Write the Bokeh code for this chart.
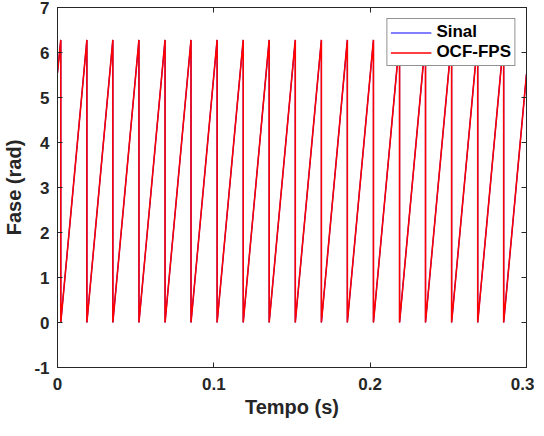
from bokeh.plotting import figure
from bokeh.models import Range1d, FixedTicker, LinearAxis, Legend, LegendItem, CustomJSTickFormatter
from bokeh.embed import file_html
from bokeh.resources import INLINE

# wrap instants of the phase (s)
sinal_wraps = [0.0021, 0.0188, 0.0354, 0.0521, 0.0688, 0.0854, 0.1021, 0.1188, 0.1354,
               0.1521, 0.1688, 0.1854, 0.2021, 0.2188, 0.2354, 0.2521, 0.2688, 0.2854]
ocf_wraps = [0.0021, 0.0188, 0.0354, 0.0521, 0.0688, 0.0854, 0.1021, 0.1188, 0.1354,
             0.1521, 0.1688, 0.1854, 0.2021, 0.2188, 0.2354, 0.2521, 0.2688, 0.2854]
t_start, t_end = 0.0, 0.3
phase_start = 5.55
phase_end = 5.52
phase_top = 6.28
phase_bottom = 0.0

x_ticks = [0, 0.1, 0.2, 0.3]
y_ticks = [-1, 0, 1, 2, 3, 4, 5, 6, 7]


def saw(wraps):
    xs, ys = [t_start], [phase_start]
    for w in wraps:
        xs += [w, w]
        ys += [phase_top, phase_bottom]
    xs.append(t_end)
    ys.append(phase_end)
    return xs, ys


FONT = "Liberation Sans"
AX = "#262626"

p = figure(frame_width=469, frame_height=360, output_backend="svg", toolbar_location=None,
           x_range=Range1d(0, 0.3), y_range=Range1d(-1, 7),
           min_border_left=52, min_border_right=8, min_border_top=7, min_border_bottom=0)
p.xgrid.visible = False
p.ygrid.visible = False
p.outline_line_color = AX
p.outline_line_width = 1

sx, sy = saw(sinal_wraps)
ox, oy = saw(ocf_wraps)
r1 = p.line(sx, sy, line_color="#0000ff", line_width=1.2)
r2 = p.line(ox, oy, line_color="#ff0000", line_width=1.6)

for ax in (p.xaxis[0], p.yaxis[0]):
    ax.major_tick_in = 5
    ax.major_tick_out = 0
    ax.minor_tick_line_color = None
    ax.axis_line_color = AX
    ax.major_tick_line_color = AX
    ax.major_label_text_font = FONT
    ax.major_label_text_font_style = "bold"
    ax.major_label_text_font_size = "17px"
    ax.major_label_text_color = AX
    ax.axis_label_text_font = FONT
    ax.axis_label_text_font_style = "bold"
    ax.axis_label_text_font_size = "20px"
    ax.axis_label_text_color = AX

p.xaxis[0].ticker = FixedTicker(ticks=x_ticks)
p.yaxis[0].ticker = FixedTicker(ticks=y_ticks)
p.yaxis[0].major_label_overrides = {-1: "-1"}
p.xaxis[0].axis_label = "Tempo (s)"
p.yaxis[0].axis_label = "Fase (rad)"
p.xaxis[0].major_label_standoff = 10
p.xaxis[0].axis_label_standoff = 3
p.yaxis[0].major_label_standoff = 8
p.yaxis[0].axis_label_standoff = 6

for loc, tk in (("above", x_ticks), ("right", y_ticks)):
    a = LinearAxis(ticker=FixedTicker(ticks=tk), major_tick_in=5, major_tick_out=0,
                   minor_tick_line_color=None, axis_line_color=AX, major_tick_line_color=AX,
                   formatter=CustomJSTickFormatter(code="return ''"), major_label_standoff=0)
    p.add_layout(a, loc)

# invisible spacer axis giving the top border some room for the "7" label
pad = LinearAxis(ticker=FixedTicker(ticks=x_ticks), major_tick_in=0, major_tick_out=7,
                 minor_tick_line_color=None, axis_line_color=None, major_tick_line_color=None,
                 formatter=CustomJSTickFormatter(code="return ''"), major_label_standoff=0)
p.add_layout(pad, "above")

legend = Legend(items=[LegendItem(label="Sinal", renderers=[r1]),
                       LegendItem(label="OCF-FPS", renderers=[r2])],
                location="top_right")
legend.label_text_font = FONT
legend.label_text_font_style = "bold"
legend.label_text_font_size = "17px"
legend.label_text_color = "#000000"
legend.border_line_color = AX
legend.border_line_width = 1
legend.background_fill_color = "white"
legend.background_fill_alpha = 1
legend.glyph_width = 41
legend.glyph_height = 19
legend.label_height = 19
legend.label_standoff = 5
legend.padding = 3
legend.spacing = 0
legend.margin = 11
p.add_layout(legend)

open("out.html", "w").write(file_html(p, INLINE))
